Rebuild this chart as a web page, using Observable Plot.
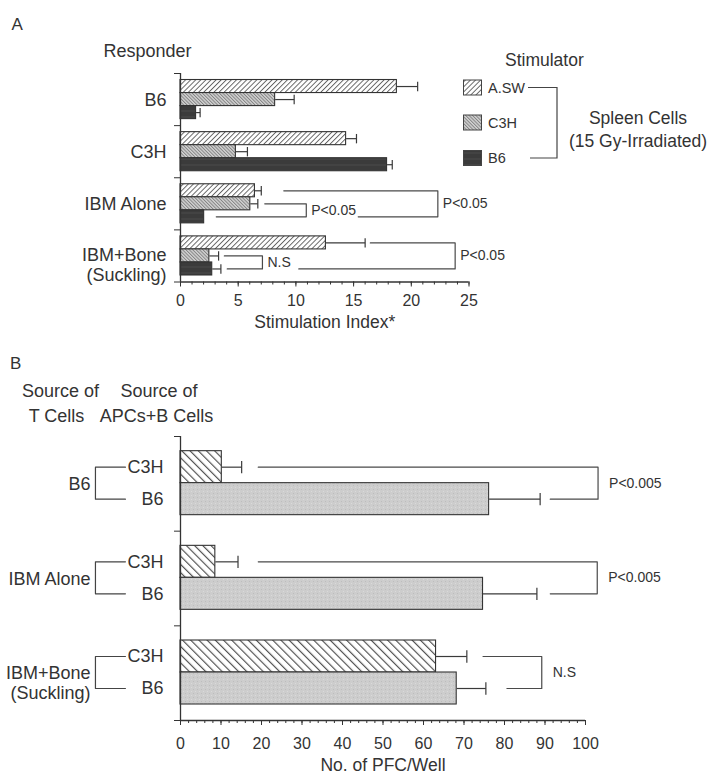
<!DOCTYPE html>
<html><head><meta charset="utf-8">
<script src="https://cdn.jsdelivr.net/npm/d3@7"></script>
<script src="https://cdn.jsdelivr.net/npm/@observablehq/plot@0.6"></script>
<style>
html,body{margin:0;padding:0;background:#fff;}
#wrap{position:relative;width:710px;height:778px;overflow:hidden;font-family:"Liberation Sans",Arial,Helvetica,sans-serif;color:#333;}
#panelA,#panelB,#overlay{position:absolute;left:0;}
#panelA{top:0;} #panelB{top:360px;} #overlay{top:0;pointer-events:none;}
</style></head><body>
<svg width="0" height="0" style="position:absolute">
<defs>
<pattern id="pAsw" patternUnits="userSpaceOnUse" width="3.6" height="3.6" patternTransform="rotate(45)">
<rect width="3.6" height="3.6" fill="#fff"/><line x1="0.5" y1="0" x2="0.5" y2="3.6" stroke="#5a5a5a" stroke-width="0.9"/>
</pattern>
<pattern id="pAc3h" patternUnits="userSpaceOnUse" width="2.4" height="2.4" patternTransform="rotate(-45)">
<rect width="2.4" height="2.4" fill="#d2d2d2"/><line x1="0.5" y1="0" x2="0.5" y2="2.4" stroke="#7d7d7d" stroke-width="0.9"/>
</pattern>
<pattern id="pAb6" patternUnits="userSpaceOnUse" width="6" height="6">
<rect width="6" height="6" fill="#3b3b3b"/><line x1="0" y1="3" x2="6" y2="3" stroke="#4a4a4a" stroke-width="1"/>
</pattern>
<pattern id="pBc3h" patternUnits="userSpaceOnUse" width="5.8" height="5.8" patternTransform="rotate(-45)">
<rect width="5.8" height="5.8" fill="#fff"/><line x1="0.6" y1="0" x2="0.6" y2="5.8" stroke="#444" stroke-width="1.1"/>
</pattern>
<pattern id="pBb6" patternUnits="userSpaceOnUse" width="4" height="4">
<rect width="4" height="4" fill="#cdcdcd"/><rect x="1" y="1" width="1" height="1" fill="#bdbdbd"/><rect x="3" y="3" width="1" height="1" fill="#dadada"/>
</pattern>
</defs></svg>
<div id="wrap">
  <div id="panelA"></div>
  <div id="panelB"></div>
  <svg id="overlay" width="710" height="778"></svg>
</div>
<script>
// ---------- Panel A data ----------
const responders = ["B6", "C3H", "IBM Alone", "IBM+Bone\n(Suckling)"];
const stimulators = ["A.SW", "C3H", "B6"];
const siA_ASW = [18.75, 14.35, 6.45, 12.6];
const siA_C3H = [8.2, 4.8, 6.05, 2.5];
const siA_B6  = [1.35, 17.9, 2.05, 2.75];
const seA_ASW = [1.8, 0.9, 0.55, 3.4];
const seA_C3H = [1.65, 1.0, 0.65, 0.8];
const seA_B6  = [0.35, 0.45, 0, 0.75];
const ticksA = [0, 5, 10, 15, 20, 25];
const bracketsA = [
  {group: 2, top: 1, bottom: 2, xTop: 7.3, xBottom: 3.1, xEnd: 10.9, label: "P<0.05"},
  {group: 2, top: 0, bottom: 2, xTop: 8.95, xBottom: 15.4, xEnd: 22.3, label: "P<0.05"},
  {group: 3, top: 1, bottom: 2, xTop: 3.8, xBottom: 4.05, xEnd: 7.1, label: "N.S"},
  {group: 3, top: 0, bottom: 2, xTop: 16.45, xBottom: 10.25, xEnd: 23.8, label: "P<0.05"}
];

// ---------- Panel B data ----------
const tSources = ["B6", "IBM Alone", "IBM+Bone\n(Suckling)"];
const apcSources = ["C3H", "B6"];
const pfc_C3H = [10.2, 8.6, 63.1];
const pfc_B6  = [76.2, 74.7, 68.2];
const pfcErr_C3H = [4.9, 5.6, 7.6];
const pfcErr_B6  = [12.6, 13.3, 7.2];
const ticksB = [0, 10, 20, 30, 40, 50, 60, 70, 80, 90, 100];
const bracketsB = [
  {group: 0, top: 0, bottom: 1, xTop: 19.2, xBottom: 91.3, xEnd: 103.1, label: "P<0.005"},
  {group: 1, top: 0, bottom: 1, xTop: 19.2, xBottom: 91.3, xEnd: 102.9, label: "P<0.005"},
  {group: 2, top: 0, bottom: 1, xTop: 74.7, xBottom: 80.6, xEnd: 89.2, label: "N.S"}
];
const labelBracketB = [-21, -13.6]; // left "[" connecting T-cell source to APC sources

// ---------- build tables ----------
const FONT = '"Liberation Sans", Arial, Helvetica, sans-serif';
const INK = "#333";
const siA = {"A.SW": siA_ASW, "C3H": siA_C3H, "B6": siA_B6};
const seA = {"A.SW": seA_ASW, "C3H": seA_C3H, "B6": seA_B6};
const fillA = {"A.SW": "url(#pAsw)", "C3H": "url(#pAc3h)", "B6": "url(#pAb6)"};
const padA = 0.125, bwA = 0.25, capA = 0.09;
const rowsA = responders.flatMap((r, i) => stimulators.map((s, k) => ({
  responder: r, stim: s, value: siA[s][i], err: seA[s][i],
  y1: i + padA + k * bwA, y2: i + padA + (k + 1) * bwA, yc: i + padA + (k + 0.5) * bwA
})));

const pfc = {"C3H": pfc_C3H, "B6": pfc_B6};
const pfcErr = {"C3H": pfcErr_C3H, "B6": pfcErr_B6};
const fillB = {"C3H": "url(#pBc3h)", "B6": "url(#pBb6)"};
const padB = 0.155, bwB = 0.338, capB = 0.065;
const rowsB = tSources.flatMap((t, i) => apcSources.map((a, k) => ({
  tsrc: t, apc: a, value: pfc[a][i], err: pfcErr[a][i],
  y1: i + padB + k * bwB, y2: i + padB + (k + 1) * bwB, yc: i + padB + (k + 0.5) * bwB
})));

function bracketPoints(list, pad, bw) {
  return list.flatMap((b, id) => {
    const yT = b.group + pad + (b.top + 0.5) * bw, yB = b.group + pad + (b.bottom + 0.5) * bw;
    return [{id, x: b.xTop, y: yT}, {id, x: b.xEnd, y: yT}, {id, x: b.xEnd, y: yB}, {id, x: b.xBottom, y: yB}];
  });
}
function bracketLabels(list, pad, bw) {
  return list.map(b => ({...b, y: b.group + pad + ((b.top + b.bottom) / 2 + 0.5) * bw}));
}

function errorMarks(rows, cap) {
  const e = rows.filter(d => d.err > 0);
  return [
    Plot.link(e, {x1: "value", x2: d => d.value + d.err, y1: "yc", y2: "yc", stroke: "#3a3a3a", strokeWidth: 1.2}),
    Plot.link(e, {x1: d => d.value + d.err, x2: d => d.value + d.err, y1: d => d.yc - cap, y2: d => d.yc + cap, stroke: "#3a3a3a", strokeWidth: 1.2})
  ];
}

// group labels: the two-line label sits a little lower than its band centre, as in the original
function groupLabelAxes(names, padding) {
  const n = names.length;
  const common = {tickSize: 0, tickPadding: padding, label: null, fontSize: 18, lineHeight: 1.12, fill: INK,
    tickFormat: d => names[Math.floor(d)]};
  return [
    Plot.axisY({...common, ticks: d3.range(n - 1).map(i => i + 0.5)}),
    Plot.axisY({...common, ticks: [n - 0.5], dy: 9})
  ];
}

// ---------- Panel A ----------
const plotA = Plot.plot({
  width: 710, height: 345,
  marginTop: 73, marginBottom: 63.5, marginLeft: 180, marginRight: 241.5,
  x: {type: "linear", domain: [0, 25], axis: null},
  y: {type: "linear", domain: [0, 4], reverse: true, axis: null},
  style: {fontFamily: FONT, fontSize: "16px", color: INK, background: "transparent", overflow: "visible"},
  marks: [
    ...errorMarks(rowsA, capA),
    ...stimulators.map(s => Plot.rect(rowsA.filter(d => d.stim === s), {
      x1: 0, x2: "value", y1: "y1", y2: "y2", fill: fillA[s], stroke: "#333", strokeWidth: 1.1
    })),
    Plot.line(bracketPoints(bracketsA, padA, bwA), {x: "x", y: "y", z: "id", stroke: "#4a4a4a", strokeWidth: 1.2}),
    Plot.text(bracketLabels(bracketsA, padA, bwA), {x: "xEnd", y: "y", text: "label", textAnchor: "start", dx: 5, fontSize: 14, fill: INK}),
    Plot.ruleX([0], {stroke: "#333", strokeWidth: 1.3}),
    Plot.ruleY([4], {stroke: "#333", strokeWidth: 1.3}),
    Plot.axisY({ticks: [0, 1, 2, 3, 4], tickSize: 6, tickFormat: () => "", label: null, stroke: "#333"}),
    ...groupLabelAxes(responders, 14),
    Plot.axisX({ticks: d3.range(0, 26, 1), tickSize: 3, tickFormat: () => "", label: null, stroke: "#333"}),
    Plot.axisX({ticks: ticksA, tickSize: 5, tickPadding: 8, label: null, fontSize: 16, fill: INK, stroke: "#333"}),
    Plot.text(["Stimulation Index*"], {text: d => d, frameAnchor: "bottom", dy: 46, fontSize: 17.5, fill: INK})
  ]
});
document.getElementById("panelA").append(plotA);

// ---------- Panel B ----------
const plotB = Plot.plot({
  width: 710, height: 418,
  marginTop: 76, marginBottom: 58, marginLeft: 180, marginRight: 125,
  x: {type: "linear", domain: [0, 100], axis: null},
  y: {type: "linear", domain: [0, 3], reverse: true, axis: null},
  style: {fontFamily: FONT, fontSize: "16px", color: INK, background: "transparent", overflow: "visible"},
  marks: [
    ...errorMarks(rowsB, capB),
    ...apcSources.map(a => Plot.rect(rowsB.filter(d => d.apc === a), {
      x1: 0, x2: "value", y1: "y1", y2: "y2", fill: fillB[a], stroke: "#333", strokeWidth: 1.1
    })),
    Plot.line(bracketPoints(bracketsB, padB, bwB), {x: "x", y: "y", z: "id", stroke: "#4a4a4a", strokeWidth: 1.2}),
    Plot.text(bracketLabels(bracketsB, padB, bwB), {x: "xEnd", y: "y", text: "label", textAnchor: "start", dx: 11, fontSize: 14, fill: INK}),
    // left "[" connectors between T-cell source and APC source labels
    Plot.line(tSources.flatMap((t, i) => {
      const yT = i + padB + 0.5 * bwB, yB = i + padB + 1.5 * bwB;
      return [{i, x: labelBracketB[1], y: yT}, {i, x: labelBracketB[0], y: yT}, {i, x: labelBracketB[0], y: yB}, {i, x: labelBracketB[1], y: yB}];
    }), {x: "x", y: "y", z: "i", stroke: "#444", strokeWidth: 1.2}),
    Plot.ruleX([0], {stroke: "#333", strokeWidth: 1.3}),
    Plot.ruleY([3], {stroke: "#333", strokeWidth: 1.3}),
    Plot.axisY({ticks: [0, 1, 2, 3], tickSize: 6, tickFormat: () => "", label: null, stroke: "#333"}),
    Plot.axisY({ticks: rowsB.map(d => d.yc), tickSize: 0, tickPadding: 17, label: null,
      tickFormat: d => rowsB.find(r => Math.abs(r.yc - d) < 1e-9).apc, fontSize: 18, fill: INK}),
    ...groupLabelAxes(tSources, 90),
    Plot.axisX({ticks: d3.range(0, 101, 2), tickSize: 3, tickFormat: () => "", label: null, stroke: "#333"}),
    Plot.axisX({ticks: ticksB, tickSize: 5, tickPadding: 12, label: null, fontSize: 16, fill: INK, stroke: "#333"}),
    Plot.text(["No. of PFC/Well"], {text: d => d, frameAnchor: "bottom", dy: 50, fontSize: 17.5, fill: INK})
  ]
});
document.getElementById("panelB").append(plotB);

// ---------- overlay: panel letters, headers, legend ----------
const ov = d3.select("#overlay").style("font-family", FONT);
function txt(x, y, s, size, anchor = "start") {
  ov.append("text").attr("x", x).attr("y", y).attr("dy", "0.36em").attr("font-size", size)
    .attr("text-anchor", anchor).attr("fill", INK).text(s);
}
txt(11.5, 24, "A", 17);
txt(147.5, 51, "Responder", 18, "middle");
txt(505, 60, "Stimulator", 17.5);
const legendY = [87.5, 122.5, 158];
stimulators.forEach((s, k) => {
  ov.append("rect").attr("x", 463.5).attr("y", legendY[k] - 7.5).attr("width", 18).attr("height", 15)
    .attr("fill", fillA[s]).attr("stroke", "#444").attr("stroke-width", 1);
  txt(488, legendY[k], s, 14.5);
});
ov.append("path").attr("d", `M528,${legendY[0]}H557V${legendY[2]}H530`).attr("fill", "none").attr("stroke", "#444").attr("stroke-width", 1.2);
txt(638, 118, "Spleen Cells", 17.5, "middle");
txt(638, 141, "(15 Gy-Irradiated)", 17.5, "middle");
txt(10, 363, "B", 17);
txt(60.5, 391, "Source of", 18, "middle");
txt(56.5, 416, "T Cells", 18, "middle");
txt(159, 391, "Source of", 18, "middle");
txt(156.5, 416, "APCs+B Cells", 18, "middle");
</script>
</body></html>
